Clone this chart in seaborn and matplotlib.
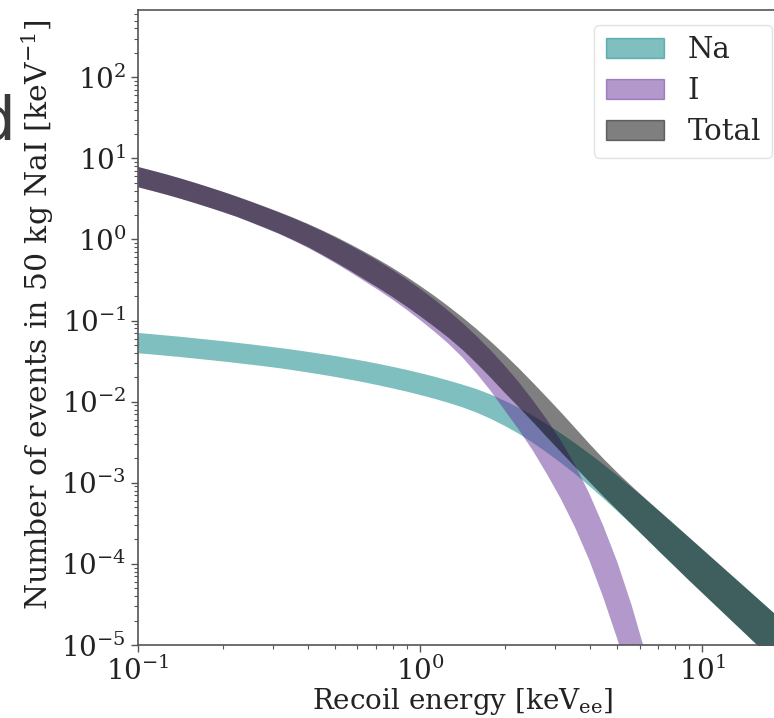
import numpy as np
import pandas as pd
import matplotlib
matplotlib.use("Agg")
import matplotlib.pyplot as plt
from matplotlib.patches import Patch
import seaborn as sns

# ---- data (band edges given as log10 values) ----
energy = [0.1, 0.1122, 0.1259, 0.1413, 0.1585, 0.1778, 0.1995, 0.2239, 0.2512,
          0.2818, 0.3162, 0.3548, 0.3981, 0.4467, 0.5012, 0.5623, 0.6310, 0.7079,
          0.7943, 0.8913, 1.0, 1.122, 1.259, 1.413, 1.585, 1.778, 1.995, 2.239,
          2.512, 2.818, 3.162, 3.548, 3.981, 4.467, 5.012, 5.623, 6.310, 7.079,
          7.943, 8.913, 10.0, 11.22, 12.59, 14.13, 15.85, 17.78, 19.95]

na_hi_log = [-1.147, -1.162, -1.178, -1.194, -1.212, -1.230, -1.248, -1.268,
             -1.288, -1.309, -1.331, -1.354, -1.379, -1.405, -1.432, -1.462,
             -1.493, -1.527, -1.563, -1.601, -1.642, -1.686, -1.734, -1.785,
             -1.840, -1.907, -1.985, -2.072, -2.170, -2.276, -2.390, -2.511,
             -2.638, -2.772, -2.911, -3.055, -3.203, -3.354, -3.507, -3.661,
             -3.816, -3.971, -4.126, -4.281, -4.436, -4.591, -4.746]
na_lo_log = [-1.397, -1.412, -1.428, -1.444, -1.462, -1.480, -1.498, -1.518,
             -1.538, -1.559, -1.581, -1.606, -1.633, -1.661, -1.690, -1.722,
             -1.755, -1.791, -1.829, -1.869, -1.912, -1.958, -2.009, -2.065,
             -2.130, -2.207, -2.295, -2.392, -2.505, -2.626, -2.755, -2.891,
             -3.038, -3.192, -3.351, -3.515, -3.683, -3.854, -4.022, -4.191,
             -4.356, -4.521, -4.686, -4.851, -5.016, -5.181, -5.346]

i_hi_log = [0.895, 0.850, 0.803, 0.753, 0.700, 0.645, 0.588, 0.528, 0.465,
            0.400, 0.333, 0.263, 0.188, 0.108, 0.023, -0.068, -0.163, -0.263,
            -0.370, -0.485, -0.608, -0.738, -0.878, -1.028, -1.190, -1.365,
            -1.555, -1.760, -1.983, -2.223, -2.483, -2.783, -3.133, -3.533,
            -3.983, -4.508, -5.108, -5.81, -6.61, -7.5, -8.5, -9.6, -10.8,
            -12.1, -13.5, -15.0, -16.6]
i_lo_log = [0.645, 0.600, 0.553, 0.503, 0.450, 0.395, 0.338, 0.278, 0.210,
            0.140, 0.068, -0.013, -0.098, -0.193, -0.293, -0.398, -0.508,
            -0.618, -0.735, -0.860, -0.993, -1.133, -1.283, -1.453, -1.650,
            -1.865, -2.105, -2.345, -2.603, -2.893, -3.203, -3.553, -3.953,
            -4.418, -4.933, -5.528, -6.208, -7.01, -7.91, -8.9, -10.0, -11.2,
            -12.5, -13.9, -15.4, -17.0, -18.7]

series_names = ["Na", "I", "Total"]
series_colors = ["teal", "rebeccapurple", "black"]

# ---- figure ----
sns.set_theme(style="ticks")
plt.rcParams["font.family"] = ["DejaVu Serif"]
plt.rcParams["mathtext.fontset"] = "dejavuserif"

fig = plt.figure(figsize=(7.74, 7.18), dpi=100)
ax = fig.add_axes([0.1783, 0.1017, 1.0168 - 0.1783, 0.8844])
ax.set_xscale("log")
ax.set_yscale("log")

E = np.array(energy)
bands = {
    "Na": (10 ** np.array(na_lo_log), 10 ** np.array(na_hi_log)),
    "I": (10 ** np.array(i_lo_log), 10 ** np.array(i_hi_log)),
}
bands["Total"] = (bands["Na"][0] + bands["I"][0], bands["Na"][1] + bands["I"][1])

for name, col in zip(series_names, series_colors):
    lo, hi = bands[name]
    df = pd.DataFrame({"E": np.concatenate([E, E]),
                       "val": np.concatenate([lo, hi])})
    sns.lineplot(data=df, x="E", y="val", errorbar=("pi", 100), color=col,
                 linewidth=0, err_kws=dict(alpha=0.5, linewidth=0), ax=ax)

ax.set_xlim(0.1, 20)
ax.set_ylim(1e-5, 676)

for s in ax.spines.values():
    s.set_color("#555555")
    s.set_linewidth(1.2)
ax.tick_params(axis="both", which="major", labelsize=20, length=5, width=1,
               color="#555555", labelcolor="#222222")
ax.tick_params(axis="both", which="minor", length=3, width=0.8, color="#555555")
ax.tick_params(axis="x", which="major", pad=3.5)

ax.set_xlabel(r"Recoil energy [keV$_{\rm ee}$]", fontsize=20, color="#222222",
              labelpad=0)
ax.set_ylabel(r"Number of events in 50 kg NaI [keV$^{-1}$]", fontsize=21.5,
              color="#222222")
ax.yaxis.set_label_coords(-0.126, 0.52)

handles = [Patch(facecolor=c, edgecolor=c, alpha=0.5, label=n)
           for n, c in zip(series_names, series_colors)]
leg = ax.legend(handles=handles, loc="upper right", fontsize=21,
                frameon=True, fancybox=True, labelspacing=0.45,
                borderaxespad=0.5)
leg.get_frame().set_edgecolor("#dddddd")

fig.text(15 / 774, 1 - 140 / 718, "d", fontsize=44, family="DejaVu Sans",
         color="#3a3a3a", ha="right", va="baseline")

fig.savefig("out.png", dpi=100)
